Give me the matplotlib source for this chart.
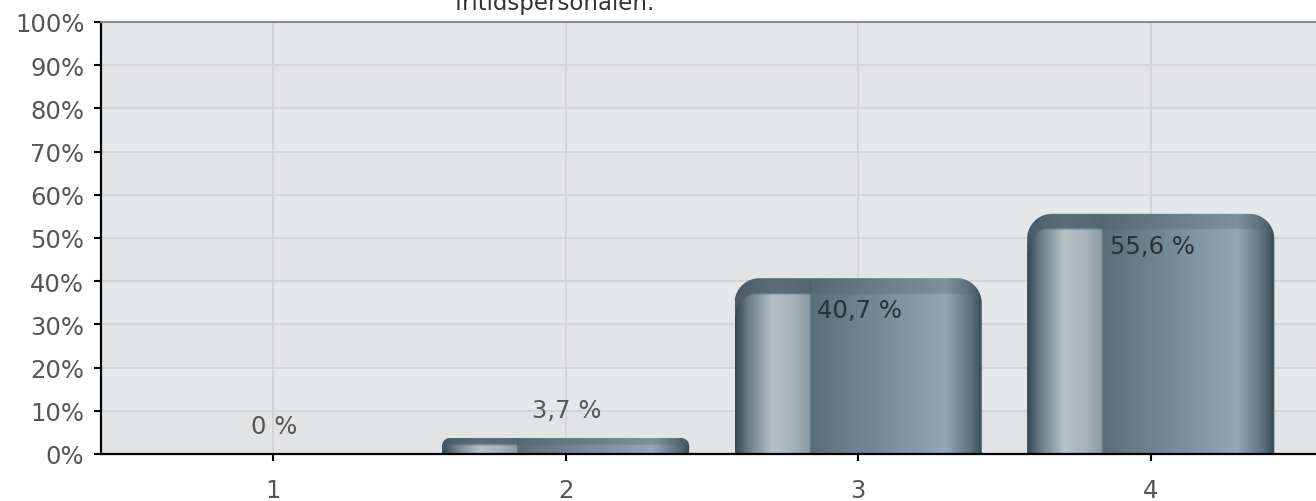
import numpy as np
import matplotlib.pyplot as plt
from matplotlib.path import Path
from matplotlib.patches import PathPatch
from matplotlib.colors import to_rgb

plt.rcParams['font.family'] = ['DejaVu Sans']

# data
categories = ['1', '2', '3', '4']
values = [0.0, 3.7, 40.7, 55.6]
labels = ['0 %', '3,7 %', '40,7 %', '55,6 %']
title = 'fritidspersonalen.'

fig = plt.figure(figsize=(13.16, 5.02), dpi=100)
ax = fig.add_axes([101/1316, 47/502, 1 - 101/1316, 432/502])

x = np.arange(1, len(categories) + 1)
ax.set_xlim(0.412, 4.565)
ax.set_ylim(0, 100)

# background bands
for i in range(10):
    col = '#e5e8eb' if i % 2 == 1 else '#e2e3e5'
    ax.axhspan(i*10, i*10 + 10, color=col, zorder=0, lw=0)
for yv in range(10, 100, 10):
    ax.axhline(yv, color='#d2d2d4', lw=1.2, zorder=1)
for xv in x:
    ax.axvline(xv, color='#d2d2d4', lw=1.2, zorder=1)

# horizontal colour profile of a bar
stops = [(0.0, '#34464f'), (0.05, '#687b85'), (0.15, '#b6c1c8'), (0.24, '#a6b2b9'),
         (0.30, '#8c9aa2'), (0.305, '#5a6e79'), (0.6, '#788d99'), (0.85, '#93a8b4'),
         (0.95, '#5e737e'), (1.0, '#3a4c55')]
sx = np.array([s[0] for s in stops])
sc = np.array([to_rgb(s[1]) for s in stops])
nx = 300
fx = np.linspace(0, 1, nx)
prof = np.stack([np.interp(fx, sx, sc[:, k]) for k in range(3)], axis=1)
cap_col = np.array(to_rgb('#4a5e69'))

px_x = 292.7   # pixels per x unit
px_y = 4.32    # pixels per y unit
width = 0.845

def bar_path(x0, x1, h, rpx):
    rx = rpx / px_x
    ry = rpx / px_y
    t = np.linspace(0, np.pi/2, 20)
    pts = [(x0, 0)]
    pts += [(x0 + rx - rx*np.cos(a), h - ry + ry*np.sin(a)) for a in t]
    pts += [(x1 - rx + rx*np.sin(a), h - ry + ry*np.cos(a)) for a in t]
    pts += [(x1, 0), (x0, 0)]
    return Path(pts, closed=True)

for xi, v, lab in zip(x, values, labels):
    if v > 0:
        x0, x1 = xi - width/2, xi + width/2
        hpx = v * px_y
        rpx = min(25, hpx * 0.5)
        path = bar_path(x0, x1, v, rpx)
        ny = max(int(hpx), 2)
        img = np.repeat(prof[None, :, :], ny, axis=0)
        # darker cap at top, with a rounded inner corner on the left
        cap = min(16, hpx * 0.4)
        rin = min(22, cap * 1.4)
        cpx = fx * width * px_x
        capd = np.full(nx, cap)
        m = cpx < rin
        capd[m] = cap + rin - np.sqrt(np.maximum(rin**2 - (rin - cpx[m])**2, 0))
        depth = np.arange(ny)[:, None] + 0.5
        inside = np.clip((capd[None, :] - depth) / 2.0 + 0.5, 0, 1)
        strength = np.where(fx < 0.305, 0.85, 0.3)[None, :]
        w = (inside * strength)[:, :, None]
        img = img * (1 - w) + cap_col[None, None, :] * w
        im = ax.imshow(img, extent=[x0, x1, 0, v], aspect='auto', origin='upper',
                       interpolation='bilinear', zorder=3)
        patch = PathPatch(path, facecolor='none', edgecolor='none', transform=ax.transData)
        ax.add_patch(patch)
        im.set_clip_path(patch)
    if v > 10:
        ax.annotate(lab, (xi, v), xytext=(1, -23), textcoords='offset points',
                    ha='center', va='center', fontsize=17.5, color='#2b3236', zorder=5)
    else:
        ax.annotate(lab, (xi, v), xytext=(1, 20), textcoords='offset points',
                    ha='center', va='center', fontsize=17.5, color='#555555', zorder=5)

ax.set_xticks(x)
ax.set_xticklabels(categories)
ax.set_yticks(range(0, 101, 10))
ax.set_yticklabels([f'{t}%' for t in range(0, 101, 10)])
ax.tick_params(axis='both', colors='black', labelcolor='#555555', labelsize=17.5,
               length=5, width=1.5)
ax.tick_params(axis='x', pad=12)
ax.tick_params(axis='y', pad=7)

ax.spines['left'].set_color('black')
ax.spines['left'].set_linewidth(1.6)
ax.spines['bottom'].set_color('black')
ax.spines['bottom'].set_linewidth(1.6)
ax.spines['top'].set_color('#8a8a8a')
ax.spines['top'].set_linewidth(1.5)
ax.spines['right'].set_visible(False)
for s in ax.spines.values():
    s.set_zorder(6)

fig.text(555/1316, 1 - 10/502, title, ha='center', va='baseline', fontsize=16.5, color='#333333')

fig.savefig('out.png', dpi=100)
